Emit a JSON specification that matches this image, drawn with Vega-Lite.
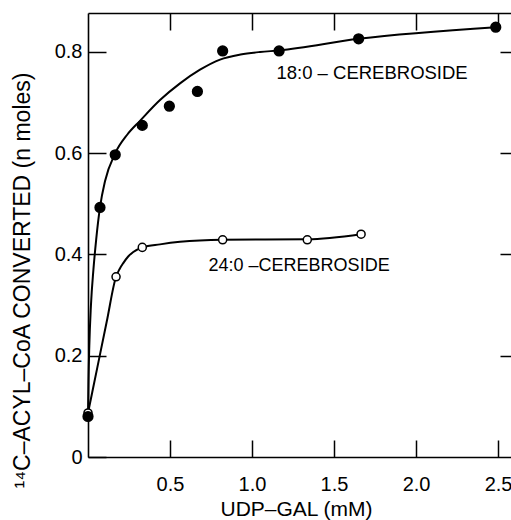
{
  "$schema": "https://vega.github.io/schema/vega-lite/v6.json",
  "width": 423,
  "height": 444,
  "autosize": "none",
  "padding": {"left": 88, "top": 13, "right": 0, "bottom": 63},
  "background": "white",
  "config": {
    "view": {"stroke": null},
    "axis": {
      "domainColor": "black",
      "domainWidth": 1.6,
      "tickColor": "black",
      "tickWidth": 1.5,
      "grid": false,
      "labelFont": "Liberation Sans",
      "labelFontSize": 20,
      "labelColor": "black",
      "titleFont": "Liberation Sans",
      "titleFontWeight": "normal",
      "titleColor": "black"
    }
  },
  "datasets": {
    "points": [
      {"series": "24:0", "mM": 0.0, "nmol": 0.087},
      {"series": "24:0", "mM": 0.171, "nmol": 0.356},
      {"series": "24:0", "mM": 0.331, "nmol": 0.414},
      {"series": "24:0", "mM": 0.821, "nmol": 0.429},
      {"series": "24:0", "mM": 1.337, "nmol": 0.429},
      {"series": "24:0", "mM": 1.665, "nmol": 0.440},
      {"series": "18:0", "mM": 0.0, "nmol": 0.080},
      {"series": "18:0", "mM": 0.073, "nmol": 0.493},
      {"series": "18:0", "mM": 0.166, "nmol": 0.597},
      {"series": "18:0", "mM": 0.331, "nmol": 0.655},
      {"series": "18:0", "mM": 0.496, "nmol": 0.693},
      {"series": "18:0", "mM": 0.667, "nmol": 0.722},
      {"series": "18:0", "mM": 0.821, "nmol": 0.802},
      {"series": "18:0", "mM": 1.165, "nmol": 0.802},
      {"series": "18:0", "mM": 1.650, "nmol": 0.826},
      {"series": "18:0", "mM": 2.486, "nmol": 0.849}
    ],
    "curves": [
      {"series": "18:0", "mM": 0.0, "nmol": 0.080},
      {"series": "18:0", "mM": 0.003, "nmol": 0.15},
      {"series": "18:0", "mM": 0.008, "nmol": 0.22},
      {"series": "18:0", "mM": 0.018, "nmol": 0.30},
      {"series": "18:0", "mM": 0.033, "nmol": 0.37},
      {"series": "18:0", "mM": 0.050, "nmol": 0.43},
      {"series": "18:0", "mM": 0.073, "nmol": 0.493},
      {"series": "18:0", "mM": 0.104, "nmol": 0.545},
      {"series": "18:0", "mM": 0.166, "nmol": 0.600},
      {"series": "18:0", "mM": 0.240, "nmol": 0.637},
      {"series": "18:0", "mM": 0.317, "nmol": 0.664},
      {"series": "18:0", "mM": 0.439, "nmol": 0.705},
      {"series": "18:0", "mM": 0.561, "nmol": 0.738},
      {"series": "18:0", "mM": 0.683, "nmol": 0.765},
      {"series": "18:0", "mM": 0.805, "nmol": 0.785},
      {"series": "18:0", "mM": 0.930, "nmol": 0.795},
      {"series": "18:0", "mM": 1.049, "nmol": 0.800},
      {"series": "18:0", "mM": 1.165, "nmol": 0.803},
      {"series": "18:0", "mM": 1.650, "nmol": 0.826},
      {"series": "18:0", "mM": 2.486, "nmol": 0.849},
      {"series": "24:0", "mM": 0.0, "nmol": 0.087},
      {"series": "24:0", "mM": 0.057, "nmol": 0.177},
      {"series": "24:0", "mM": 0.114, "nmol": 0.267},
      {"series": "24:0", "mM": 0.171, "nmol": 0.356},
      {"series": "24:0", "mM": 0.192, "nmol": 0.371},
      {"series": "24:0", "mM": 0.215, "nmol": 0.383},
      {"series": "24:0", "mM": 0.245, "nmol": 0.396},
      {"series": "24:0", "mM": 0.276, "nmol": 0.405},
      {"series": "24:0", "mM": 0.333, "nmol": 0.414},
      {"series": "24:0", "mM": 0.439, "nmol": 0.420},
      {"series": "24:0", "mM": 0.561, "nmol": 0.425},
      {"series": "24:0", "mM": 0.821, "nmol": 0.429},
      {"series": "24:0", "mM": 1.337, "nmol": 0.430},
      {"series": "24:0", "mM": 1.665, "nmol": 0.440}
    ]
  },
  "layer": [
    {
      "data": {"name": "curves"},
      "mark": {"type": "line", "color": "black", "strokeWidth": 2, "interpolate": "monotone"},
      "encoding": {
        "x": {
          "field": "mM", "type": "quantitative",
          "scale": {"domain": [0, 2.579], "nice": false, "zero": false},
          "axis": {
            "orient": "bottom",
            "values": [0.5, 1, 1.5, 2, 2.5],
            "format": ".1f",
            "tickSize": -17,
            "labelPadding": 34,
            "title": "UDP\u2013GAL (mM)",
            "titleFontSize": 21,
            "titleX": 208,
            "titleY": 52,
            "titleBaseline": "middle",
            "titleAnchor": "middle"
          }
        },
        "y": {
          "field": "nmol", "type": "quantitative",
          "scale": {"domain": [0, 0.877], "nice": false, "zero": false},
          "axis": {
            "orient": "left",
            "values": [0, 0.2, 0.4, 0.6, 0.8],
            "labelExpr": "datum.value == 0 ? '0' : format(datum.value, '.1f')",
            "tickSize": -18,
            "labelPadding": 24,
            "title": "\u00b9\u2074C\u2013ACYL\u2013CoA CONVERTED (n moles)",
            "titleFontSize": 23,
            "titleX": -66,
            "titleY": 267,
            "titleBaseline": "middle",
            "titleAnchor": "middle",
            "titleAngle": -90
          }
        },
        "detail": {"field": "series"}
      }
    },
    {
      "data": {"name": "points"},
      "mark": {"type": "circle", "stroke": "black", "strokeWidth": 1.5, "opacity": 1},
      "encoding": {
        "x": {
          "field": "mM", "type": "quantitative",
          "axis": {
            "orient": "top",
            "values": [0.5, 1, 1.5, 2, 2.5],
            "tickSize": -17,
            "labels": false,
            "title": null
          }
        },
        "y": {
          "field": "nmol", "type": "quantitative",
          "axis": {
            "orient": "right",
            "values": [0.2, 0.4, 0.6, 0.8],
            "tickSize": -11,
            "labels": false,
            "domain": false,
            "title": null
          }
        },
        "fill": {"field": "series", "type": "nominal", "scale": {"domain": ["18:0", "24:0"], "range": ["black", "white"]}, "legend": null},
        "size": {"field": "series", "type": "nominal", "scale": {"domain": ["18:0", "24:0"], "range": [95, 65]}, "legend": null}
      }
    },
    {
      "data": {"values": [{}]},
      "mark": {"type": "text", "text": "18:0 \u2013 CEREBROSIDE", "font": "Liberation Sans", "fontSize": 18.5, "color": "black", "align": "center", "baseline": "middle"},
      "encoding": {
        "x": {"datum": 1.732, "type": "quantitative", "axis": null},
        "y": {"datum": 0.758, "type": "quantitative", "axis": null}
      }
    },
    {
      "data": {"values": [{}]},
      "mark": {"type": "text", "text": "24:0 \u2013CEREBROSIDE", "font": "Liberation Sans", "fontSize": 18, "color": "black", "align": "center", "baseline": "middle"},
      "encoding": {
        "x": {"datum": 1.287, "type": "quantitative", "axis": null},
        "y": {"datum": 0.377, "type": "quantitative", "axis": null}
      }
    }
  ],
  "resolve": {"axis": {"x": "independent", "y": "independent"}}
}
